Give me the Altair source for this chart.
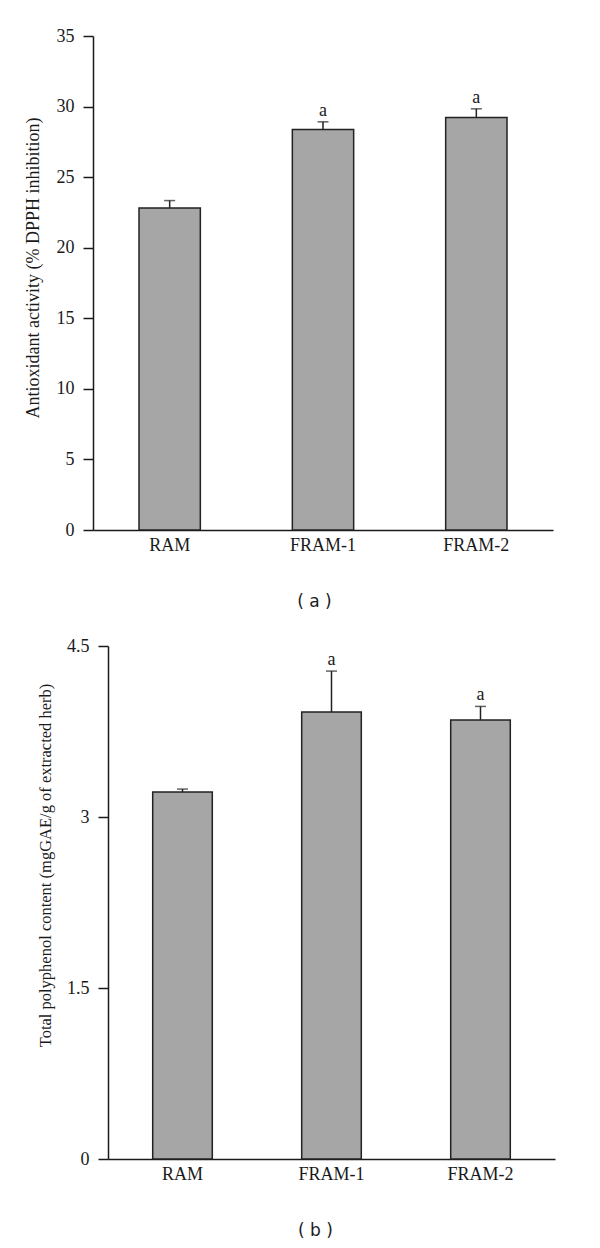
import altair as alt
import pandas as pd

groups = ["RAM", "FRAM-1", "FRAM-2"]

dpph_mean = [22.82, 28.38, 29.23]
dpph_err = [0.52, 0.54, 0.61]
dpph_sig = ["", "a", "a"]

tpc_mean = [3.22, 3.92, 3.85]
tpc_err = [0.025, 0.36, 0.12]
tpc_sig = ["", "a", "a"]

dpph_ticks = [0, 5, 10, 15, 20, 25, 30, 35]
tpc_ticks = [0, 1.5, 3, 4.5]

SERIF = "Liberation Serif"
SANS = "DejaVu Sans"
INK = "#1a1a1a"


def panel(means, errs, sigs, ymax, ticks, ytitle, caption, w, h, xrange,
          yoffset, title_x, title_y, title_size, cap_x, fmt):
    df = pd.DataFrame({
        "group": groups,
        "mean": means,
        "upper": [m + e for m, e in zip(means, errs)],
        "sig": sigs,
    })
    if xrange is not None:
        xscale = alt.Scale(paddingInner=0, paddingOuter=0, range=xrange)
    else:
        xscale = alt.Scale(paddingInner=0, paddingOuter=0)
    x = alt.X("group:N", sort=groups, scale=xscale,
              axis=alt.Axis(title=caption, labelAngle=0, ticks=False, tickSize=0,
                            labelPadding=6, labelFont=SERIF, labelFontSize=18,
                            labelColor=INK, domainColor=INK, domainWidth=1.5,
                            titleFont=SANS, titleFontSize=17, titleFontWeight="normal",
                            titleColor=INK, titlePadding=39, titleX=cap_x))
    yscale = alt.Scale(domain=[0, ymax], nice=False, zero=True)
    yaxis = alt.Axis(title=ytitle, values=ticks, format=fmt, grid=False,
                     tickSize=10, tickColor=INK, tickWidth=1.5,
                     domainColor=INK, domainWidth=1.5, labelPadding=9,
                     labelFont=SERIF, labelFontSize=18, labelColor=INK,
                     titleFont=SERIF, titleFontSize=title_size, titleFontWeight="normal",
                     titleColor=INK, titleX=title_x, titleY=title_y,
                     offset=yoffset)
    base = alt.Chart(df)
    bars = base.mark_bar(color="#a6a6a6", stroke="#222222", strokeWidth=1.5,
                         width=alt.RelativeBandSize(0.4)).encode(
        y=alt.Y("mean:Q", scale=yscale, axis=yaxis))
    rule = base.mark_rule(color="#222222", strokeWidth=1.5).encode(
        y=alt.Y("mean:Q", scale=yscale, axis=yaxis),
        y2="upper:Q")
    cap = base.mark_tick(color="#222222", thickness=1.5, size=11).encode(
        y=alt.Y("upper:Q", scale=yscale, axis=yaxis))
    txt = base.mark_text(font=SERIF, fontSize=18, color=INK, dy=-6,
                         baseline="alphabetic").encode(
        y=alt.Y("upper:Q", scale=yscale, axis=yaxis), text="sig:N")
    return alt.layer(bars, rule, cap, txt).encode(x=x).properties(width=w, height=h)


pa = panel(dpph_mean, dpph_err, dpph_sig, 35, dpph_ticks,
           "Antioxidant activity (% DPPH inhibition)", "( a )",
           460, 494, None, 0, -51, 231.5, 18, 221, "d")
pb = panel(tpc_mean, tpc_err, tpc_sig, 4.5, tpc_ticks,
           "Total polyphenol content (mgGAE/g of extracted herb)", "( b )",
           462, 513, [15, 462], -15, -55, 219, 16.5, 222, ".1~f")

chart = alt.vconcat(pa, pb, spacing=28).properties(
    padding={"left": 16, "top": 19, "right": 5, "bottom": 5},
    background="white",
).configure_view(stroke=None)

chart.save("out.html", embed_options={"renderer": "svg", "actions": False})
